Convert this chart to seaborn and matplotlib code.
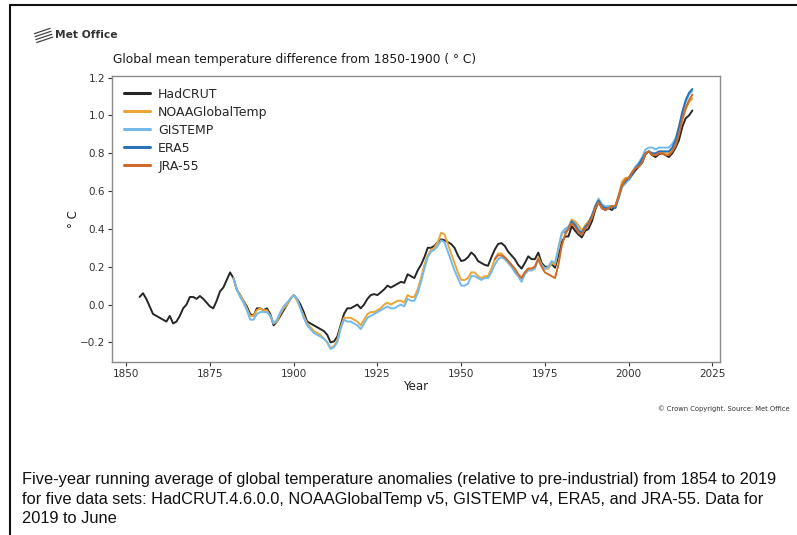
import matplotlib
matplotlib.use("Agg")
import matplotlib.pyplot as plt
from matplotlib.lines import Line2D
import numpy as np
import pandas as pd
import seaborn as sns

# Five-year running means of global temperature anomaly (deg C, relative to 1850-1900)
hadcrut_start = 1854
hadcrut = [
    0.04, 0.06, 0.03, -0.01, -0.05, -0.06,                          # 1854-1859
    -0.07, -0.08, -0.09, -0.06, -0.10, -0.09, -0.06, -0.02, 0.00, 0.04,   # 1860s
    0.04, 0.03, 0.045, 0.03, 0.01, -0.01, -0.02, 0.02, 0.07, 0.09,    # 1870s
    0.13, 0.17, 0.14, 0.08, 0.05, 0.02, -0.01, -0.05, -0.06, -0.02,   # 1880s
    -0.02, -0.03, -0.02, -0.05, -0.11, -0.09, -0.06, -0.03, 0.00, 0.03,  # 1890s
    0.05, 0.03, 0.00, -0.04, -0.09, -0.10, -0.11, -0.12, -0.13, -0.14,   # 1900s
    -0.16, -0.20, -0.195, -0.17, -0.11, -0.05, -0.02, -0.02, -0.01, 0.00,  # 1910s
    -0.02, 0.00, 0.03, 0.05, 0.055, 0.05, 0.065, 0.08, 0.10, 0.09,    # 1920s
    0.10, 0.11, 0.12, 0.115, 0.16, 0.15, 0.14, 0.18, 0.21, 0.25,     # 1930s
    0.30, 0.30, 0.31, 0.33, 0.345, 0.34, 0.33, 0.32, 0.30, 0.26,     # 1940s
    0.23, 0.235, 0.25, 0.275, 0.26, 0.23, 0.22, 0.21, 0.205, 0.25,   # 1950s
    0.29, 0.32, 0.325, 0.31, 0.28, 0.26, 0.24, 0.21, 0.19, 0.22,     # 1960s
    0.255, 0.24, 0.24, 0.275, 0.22, 0.20, 0.20, 0.215, 0.195, 0.26,  # 1970s
    0.33, 0.36, 0.36, 0.415, 0.39, 0.37, 0.355, 0.39, 0.40, 0.44,    # 1980s
    0.50, 0.545, 0.51, 0.50, 0.51, 0.50, 0.52, 0.57, 0.635, 0.655,   # 1990s
    0.66, 0.685, 0.71, 0.73, 0.75, 0.795, 0.81, 0.79, 0.78, 0.795,   # 2000s
    0.80, 0.79, 0.78, 0.80, 0.83, 0.87, 0.94, 0.985, 1.00, 1.026,    # 2010s
]

noaa_start = 1882
noaa = [
    0.14, 0.08, 0.05, 0.02, -0.02, -0.06, -0.06, -0.03,              # 1882-1889
    -0.02, -0.03, -0.03, -0.06, -0.10, -0.09, -0.05, -0.02, 0.00, 0.03,
    0.05, 0.02, -0.02, -0.06, -0.10, -0.12, -0.14, -0.15, -0.16, -0.18,
    -0.20, -0.23, -0.22, -0.19, -0.12, -0.07, -0.07, -0.07, -0.08, -0.09,
    -0.11, -0.08, -0.05, -0.04, -0.04, -0.03, -0.02, 0.00, 0.01, 0.00,
    0.01, 0.02, 0.02, 0.01, 0.05, 0.04, 0.04, 0.08, 0.14, 0.21,
    0.26, 0.29, 0.30, 0.33, 0.38, 0.37, 0.32, 0.27, 0.22, 0.17,
    0.13, 0.13, 0.14, 0.17, 0.17, 0.15, 0.14, 0.15, 0.15, 0.19,
    0.24, 0.27, 0.27, 0.25, 0.23, 0.21, 0.18, 0.16, 0.14, 0.17,
    0.19, 0.19, 0.20, 0.25, 0.21, 0.19, 0.19, 0.22, 0.21, 0.29,
    0.37, 0.40, 0.41, 0.45, 0.44, 0.42, 0.39, 0.42, 0.44, 0.47,
    0.51, 0.55, 0.52, 0.51, 0.52, 0.52, 0.52, 0.58, 0.65, 0.67,
    0.67, 0.70, 0.73, 0.74, 0.76, 0.80, 0.81, 0.80, 0.79, 0.80,
    0.81, 0.80, 0.80, 0.82, 0.85, 0.91, 0.98, 1.03, 1.07, 1.09,
]

gistemp_start = 1882
gistemp = [
    0.14, 0.08, 0.04, 0.01, -0.03, -0.08, -0.08, -0.05,
    -0.04, -0.04, -0.04, -0.06, -0.10, -0.08, -0.04, -0.01, 0.01, 0.03,
    0.05, 0.03, -0.02, -0.07, -0.11, -0.13, -0.15, -0.16, -0.17, -0.18,
    -0.20, -0.235, -0.225, -0.20, -0.13, -0.08, -0.09, -0.09, -0.10, -0.11,
    -0.13, -0.10, -0.07, -0.06, -0.05, -0.04, -0.03, -0.02, -0.01, -0.02,
    -0.02, -0.01, 0.00, -0.01, 0.03, 0.02, 0.02, 0.06, 0.12, 0.19,
    0.25, 0.28, 0.29, 0.31, 0.34, 0.33, 0.28, 0.23, 0.18, 0.14,
    0.10, 0.10, 0.11, 0.15, 0.15, 0.14, 0.13, 0.14, 0.14, 0.17,
    0.21, 0.24, 0.25, 0.24, 0.22, 0.20, 0.17, 0.15, 0.12, 0.16,
    0.18, 0.18, 0.19, 0.24, 0.21, 0.19, 0.20, 0.23, 0.22, 0.30,
    0.38, 0.40, 0.41, 0.44, 0.43, 0.40, 0.37, 0.41, 0.43, 0.46,
    0.52, 0.56, 0.53, 0.52, 0.52, 0.52, 0.51, 0.56, 0.62, 0.64,
    0.66, 0.69, 0.73, 0.75, 0.78, 0.82, 0.83, 0.83, 0.82, 0.83,
    0.83, 0.83, 0.83, 0.85, 0.88, 0.94, 1.01, 1.07, 1.11, 1.13,
]

era5_start = 1981
era5 = [
    0.38, 0.40, 0.44, 0.42, 0.39, 0.38, 0.41, 0.43, 0.47,
    0.52, 0.55, 0.52, 0.51, 0.51, 0.52, 0.51, 0.57, 0.63, 0.65,
    0.67, 0.69, 0.72, 0.74, 0.77, 0.80, 0.81, 0.80, 0.80, 0.81,
    0.81, 0.81, 0.81, 0.83, 0.87, 0.94, 1.02, 1.08, 1.12, 1.14,
]

jra55_start = 1960
jra55 = [
    0.24, 0.26, 0.26, 0.25, 0.23, 0.21, 0.19, 0.16, 0.14, 0.17,
    0.19, 0.19, 0.20, 0.24, 0.20, 0.17, 0.16, 0.15, 0.14, 0.21,
    0.31, 0.37, 0.40, 0.43, 0.41, 0.38, 0.37, 0.40, 0.42, 0.46,
    0.51, 0.54, 0.51, 0.50, 0.51, 0.52, 0.52, 0.57, 0.63, 0.66,
    0.67, 0.70, 0.72, 0.73, 0.75, 0.80, 0.81, 0.79, 0.79, 0.80,
    0.80, 0.79, 0.79, 0.81, 0.84, 0.90, 0.98, 1.04, 1.08, 1.11,
]

series_names = ["HadCRUT", "NOAAGlobalTemp", "GISTEMP", "ERA5", "JRA-55"]
series_colors = ["#262626", "#eba635", "#74b9ea", "#2a72b8", "#cf6a2c"]
x_ticks = [1850, 1875, 1900, 1925, 1950, 1975, 2000, 2025]
y_ticks = [-0.2, 0.0, 0.2, 0.4, 0.6, 0.8, 1.0, 1.2]

frames = []
for name, start, vals in zip(
    series_names,
    [hadcrut_start, noaa_start, gistemp_start, era5_start, jra55_start],
    [hadcrut, noaa, gistemp, era5, jra55],
):
    frames.append(pd.DataFrame({
        "Year": np.arange(start, start + len(vals)),
        "anomaly": vals,
        "dataset": name,
    }))
df = pd.concat(frames, ignore_index=True)

sns.set_theme(style="ticks")
plt.rcParams["font.family"] = ["DejaVu Sans"]

fig = plt.figure(figsize=(7.97, 5.35), dpi=100)
ax = fig.add_axes([0.1405, 0.3234, 0.7629, 0.5346])

sns.lineplot(data=df, x="Year", y="anomaly", hue="dataset",
             hue_order=series_names, palette=series_colors,
             linewidth=1.4, ax=ax)

ax.set_xticks(x_ticks)
ax.set_yticks(y_ticks)
ax.set_yticklabels([f"{v:.1f}".replace("-", "\u2212") for v in y_ticks])
ax.tick_params(labelsize=7.5, length=3, width=0.8, colors="#333333", pad=2)
for s in ax.spines.values():
    s.set_color("#8a8a8a")
    s.set_linewidth(1.0)
ax.set_xlabel("Year", fontsize=8.5, labelpad=1, color="#222222")
ax.set_ylabel("° C", fontsize=8.5, labelpad=0, color="#222222")

leg = ax.legend(loc="upper left", frameon=False, fontsize=9,
                handlelength=2.1, handletextpad=0.65, labelspacing=0.4,
                borderaxespad=0.55)
for h in leg.get_lines():
    h.set_linewidth(2.2)

# titles and annotations
fig.text(0.142, 0.888, "Global mean temperature difference from 1850-1900 ( ° C)",
         fontsize=8.85, color="#1a1a1a", va="center", ha="left")
fig.text(0.069, 0.934, "Met Office", fontsize=7.7, fontweight="bold",
         color="#333333", va="center", ha="left")
for i in range(4):
    yy = 0.943 - i * 0.0055
    fig.add_artist(Line2D([0.043 + i * 0.001, 0.063 + i * 0.001],
                          [yy - 0.006, yy + 0.004], color="#444444", lw=0.9))
fig.text(0.991, 0.237, "© Crown Copyright. Source: Met Office",
         fontsize=4.85, color="#333333", ha="right", va="center")

caption = ("Five-year running average of global temperature anomalies (relative to pre-industrial) from 1854 to 2019\n"
           "for five data sets: HadCRUT.4.6.0.0, NOAAGlobalTemp v5, GISTEMP v4, ERA5, and JRA-55. Data for\n"
           "2019 to June")
fig.text(0.027, 0.067, caption, family=["Liberation Sans"],
         fontsize=11.8, color="#111111", ha="left", va="center", linespacing=1.36)

# outer frame lines along the top and left edges
fig.add_artist(Line2D([0.0125, 1.0], [0.991, 0.991], color="#111111", lw=1.5))
fig.add_artist(Line2D([0.0125, 0.0125], [0.0, 0.991], color="#111111", lw=1.5))

fig.savefig("out.png", dpi=100)
